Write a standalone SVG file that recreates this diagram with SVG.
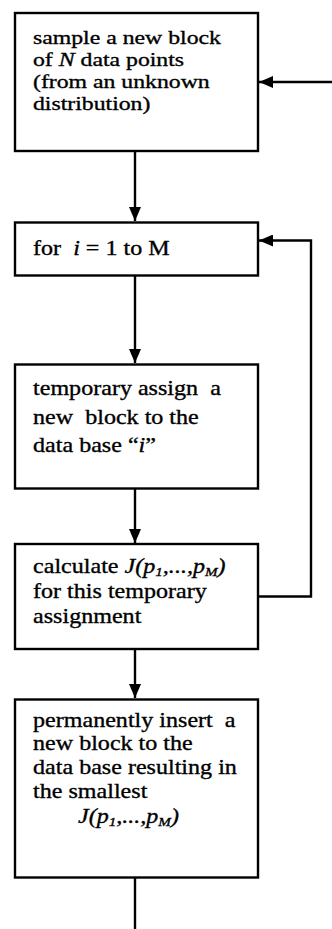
<svg xmlns="http://www.w3.org/2000/svg" width="332" height="929" viewBox="0 0 332 929">
<defs>
<marker id="ah" markerWidth="14" markerHeight="12" refX="14" refY="6" orient="auto" markerUnits="userSpaceOnUse">
<path d="M0,0 L14,6 L0,12 Z" fill="#000"/>
</marker>
<style>
.box{fill:#fff;stroke:#000;stroke-width:2.4}
.ln{fill:none;stroke:#000;stroke-width:2.4}
text{font-family:"Liberation Serif","Times New Roman",serif;font-size:21.5px;fill:#000;stroke:#000;stroke-width:0.35}
.t1{font-size:19.8px}
.i{font-style:italic}
.s{font-size:13.5px;font-style:italic}
</style>
</defs>
<rect width="332" height="929" fill="#fff"/>
<g id="connectors">
<line class="ln" x1="332" y1="82" x2="259" y2="82" marker-end="url(#ah)"/>
<line class="ln" x1="135" y1="151" x2="135" y2="221" marker-end="url(#ah)"/>
<line class="ln" x1="135" y1="276" x2="135" y2="363" marker-end="url(#ah)"/>
<line class="ln" x1="135" y1="489" x2="135" y2="543" marker-end="url(#ah)"/>
<line class="ln" x1="135" y1="649" x2="135" y2="698" marker-end="url(#ah)"/>
<line class="ln" x1="135" y1="878" x2="135" y2="929"/>
<polyline class="ln" points="259,596.5 311,596.5 311,240.5 259,240.5" marker-end="url(#ah)"/>
</g>
<g id="n1">
<rect class="box" x="15" y="13" width="243" height="138"/>
<g transform="scale(1.2 1)">
<text class="t1" x="27.5" y="44">sample a new block</text>
<text class="t1" x="27.5" y="66">of <tspan class="i">N</tspan> data points</text>
<text class="t1" x="27.5" y="88">(from an unknown</text>
<text class="t1" x="27.5" y="110">distribution)</text>
</g>
</g>
<g id="n2">
<rect class="box" x="15" y="222.5" width="243" height="53"/>
<g transform="scale(1.12 1)">
<text x="29.5" y="255" xml:space="preserve">for  <tspan class="i">i</tspan> = 1 to M</text>
</g>
</g>
<g id="n3">
<rect class="box" x="15" y="364.5" width="243" height="124"/>
<g transform="scale(1.12 1)">
<text x="29.5" y="395" xml:space="preserve">temporary assign  a</text>
<text x="29.5" y="424" xml:space="preserve">new  block to the</text>
<text x="29.5" y="452">data base “<tspan class="i">i</tspan>”</text>
</g>
</g>
<g id="n4">
<rect class="box" x="15" y="544" width="243" height="105"/>
<g transform="scale(1.12 1)">
<text x="29.5" y="573">calculate <tspan class="i">J(p</tspan><tspan class="s" dy="3">1</tspan><tspan class="i" dy="-3">,...,p</tspan><tspan class="s" dy="3">M</tspan><tspan class="i" dy="-3">)</tspan></text>
<text x="29.5" y="598">for this temporary</text>
<text x="29.5" y="623">assignment</text>
</g>
</g>
<g id="n5">
<rect class="box" x="15" y="699.5" width="243" height="178"/>
<g transform="scale(1.12 1)">
<text x="29.5" y="727" xml:space="preserve">permanently insert  a</text>
<text x="29.5" y="750">new block to the</text>
<text x="29.5" y="774">data base resulting in</text>
<text x="29.5" y="798">the smallest</text>
<text x="69.6" y="823"><tspan class="i">J(p</tspan><tspan class="s" dy="3">1</tspan><tspan class="i" dy="-3">,...,p</tspan><tspan class="s" dy="3">M</tspan><tspan class="i" dy="-3">)</tspan></text>
</g>
</g>
</svg>
